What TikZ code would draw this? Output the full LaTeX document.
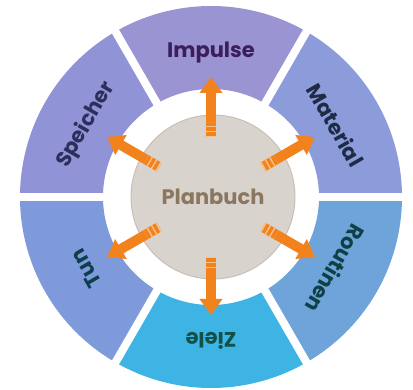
\documentclass[tikz,border=0pt]{standalone}
\usepackage{fontspec}
\setmainfont{Poppins}
\usetikzlibrary{arrows.meta}
\definecolor{impulsfarbe}{HTML}{9A94D2}
\definecolor{materialfarbe}{HTML}{8C9CDB}
\definecolor{routinenfarbe}{HTML}{6FA4DA}
\definecolor{zielefarbe}{HTML}{3DB4E3}
\definecolor{tunfarbe}{HTML}{7F9ADB}
\definecolor{speicherfarbe}{HTML}{9093D6}
\definecolor{kreisfarbe}{HTML}{D9D3CD}
\definecolor{randfarbe}{HTML}{C9BFB5}
\definecolor{planfarbe}{HTML}{8B7660}
\definecolor{pfeilorange}{HTML}{F2821C}
\definecolor{streifenorange}{HTML}{F9C08A}
\definecolor{impulstext}{HTML}{3B1E5A}
\definecolor{materialtext}{HTML}{1F2B45}
\definecolor{routinentext}{HTML}{0F4045}
\definecolor{zieletext}{HTML}{125048}
\definecolor{tuntext}{HTML}{0E3E4E}
\definecolor{speichertext}{HTML}{2C2E5C}

\begin{document}
\begin{tikzpicture}[
    x=1pt, y=1pt,
    gap/.style={draw=white, line width=8pt},
    label/.style={font=\bfseries\fontsize{21}{25}\selectfont, inner sep=0pt},
    center/.style={circle, fill=kreisfarbe, draw=randfarbe, line width=1pt, minimum size=164pt, inner sep=0pt,
      text=planfarbe, font=\bfseries\fontsize{21}{25}\selectfont},
    pfeil/.style={draw=pfeilorange, line width=10pt, -{Triangle[width=22pt,length=16pt]}},
    streifen/.style={draw=streifenorange, line width=11pt, dash pattern=on 1.4pt off 3.6pt, shorten >=45pt}
  ]
    \useasboundingbox (-211,-193) rectangle (202,197);

    % ring parts
    \fill[impulsfarbe] (60:191) arc[start angle=60, end angle=120, radius=191] -- (120:108) arc[start angle=120, end angle=60, radius=108] -- cycle;
    \fill[speicherfarbe] (120:191) arc[start angle=120, end angle=180, radius=191] -- (180:108) arc[start angle=180, end angle=120, radius=108] -- cycle;
    \fill[tunfarbe] (180:191) arc[start angle=180, end angle=240, radius=191] -- (240:108) arc[start angle=240, end angle=180, radius=108] -- cycle;
    \fill[zielefarbe] (240:191) arc[start angle=240, end angle=300, radius=191] -- (300:108) arc[start angle=300, end angle=240, radius=108] -- cycle;
    \fill[routinenfarbe] (300:191) arc[start angle=300, end angle=360, radius=191] -- (0:108) arc[start angle=360, end angle=300, radius=108] -- cycle;
    \fill[materialfarbe] (0:191) arc[start angle=0, end angle=60, radius=191] -- (60:108) arc[start angle=60, end angle=0, radius=108] -- cycle;

    % white gaps
    \draw[gap] (0:100) -- (0:200);
    \draw[gap] (60:100) -- (60:200);
    \draw[gap] (120:100) -- (120:200);
    \draw[gap] (180:100) -- (180:200);
    \draw[gap] (240:100) -- (240:200);
    \draw[gap] (300:100) -- (300:200);

    \node[center] (planbuch) at (2,0) {Planbuch};

    \coordinate (impulse tail) at (90:60);
    \coordinate (impulse tip) at (90:120);
    \coordinate (material tail) at (30:60);
    \coordinate (material tip) at (30:120);
    \coordinate (routinen tail) at (-30:60);
    \coordinate (routinen tip) at (-30:120);
    \coordinate (ziele tail) at (-90:60);
    \coordinate (ziele tip) at (-90:118);
    \coordinate (tun tail) at (210:60);
    \coordinate (tun tip) at (210:120);
    \coordinate (speicher tail) at (150:60);
    \coordinate (speicher tip) at (150:120);

    \draw[pfeil] (impulse tail) -- (impulse tip);
    \draw[pfeil] (material tail) -- (material tip);
    \draw[pfeil] (routinen tail) -- (routinen tip);
    \draw[pfeil] (ziele tail) -- (ziele tip);
    \draw[pfeil] (tun tail) -- (tun tip);
    \draw[pfeil] (speicher tail) -- (speicher tip);

    \draw[streifen] (impulse tail) -- (impulse tip);
    \draw[streifen] (material tail) -- (material tip);
    \draw[streifen] (routinen tail) -- (routinen tip);
    \draw[streifen] (ziele tail) -- (ziele tip);
    \draw[streifen] (tun tail) -- (tun tip);
    \draw[streifen] (speicher tail) -- (speicher tip);

    \node[label, text=impulstext, rotate=0] (impulse) at (90:144) {Impulse};
    \node[label, text=materialtext, rotate=-60] (material) at (30:144) {Material};
    \node[label, text=routinentext, rotate=-120] (routinen) at (-30:144) {Routinen};
    \node[label, text=zieletext, rotate=180] (ziele) at (-90:144) {Ziele};
    \node[label, text=tuntext, rotate=120] (tun) at (210:144) {Tun};
    \node[label, text=speichertext, rotate=60] (speicher) at (150:144) {Speicher};
\end{tikzpicture}
\end{document}
